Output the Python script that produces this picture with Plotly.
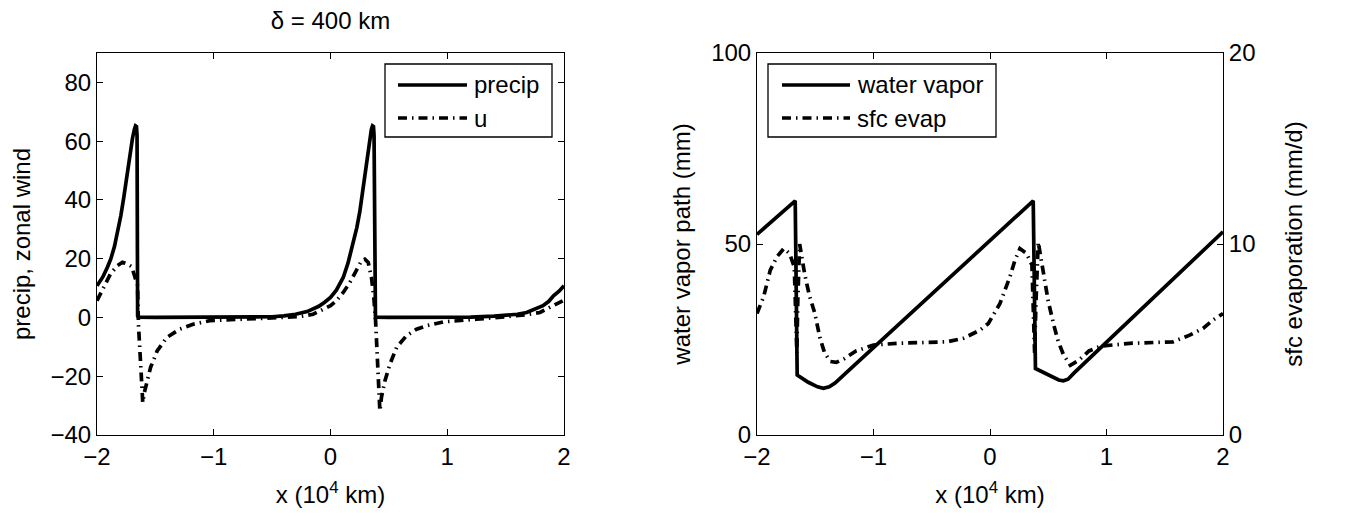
import plotly.graph_objects as go

# ---------------- data ----------------
# left panel: precip and zonal wind u vs x (10^4 km)
x_precip = [-2.0, -1.95, -1.91, -1.881, -1.85, -1.82, -1.796, -1.77, -1.75, -1.739, -1.72,
            -1.696, -1.68, -1.67, -1.662, -1.657, -1.652, -1.645, -1.5, -1.0, -0.9, -0.7,
            -0.5, -0.4, -0.3, -0.2, -0.1, -0.05, 0.0, 0.05, 0.109, 0.15, 0.194, 0.225,
            0.251, 0.275, 0.294, 0.315, 0.337, 0.35, 0.36, 0.368, 0.373, 0.378, 0.385,
            0.5, 1.0, 1.2, 1.4, 1.5, 1.6, 1.68, 1.75, 1.82, 1.87, 1.91, 1.96, 2.0]
precip = [10.8, 13.8, 17.2, 20.0, 24.2, 29.5, 34.6, 41.0, 46.5, 50.3, 55.7,
          61.0, 64.0, 65.2, 65.0, 62.0, 0.5, 0.1, 0.0, 0.0, 0.0, 0.05,
          0.25, 0.55, 1.1, 2.0, 3.8, 5.2, 6.8, 9.3, 13.6, 18.5, 25.0, 30.5,
          36.0, 42.5, 48.8, 55.0, 61.3, 64.0, 65.2, 65.0, 62.0, 0.5, 0.1,
          0.0, 0.0, 0.1, 0.45, 0.8, 1.1, 1.7, 2.7, 4.0, 5.5, 7.4, 9.0, 10.8]

x_u = [-2.0, -1.945, -1.885, -1.826, -1.782, -1.739, -1.703, -1.674, -1.653, -1.645,
       -1.634, -1.622, -1.608, -1.594, -1.567, -1.541, -1.485, -1.402, -1.291, -1.177,
       -1.034, -0.749, -0.463, -0.263, -0.149, -0.063, 0.0, 0.051, 0.109, 0.166, 0.223,
       0.266, 0.294, 0.323, 0.351, 0.371, 0.386, 0.4, 0.417, 0.423, 0.437, 0.466, 0.509,
       0.566, 0.651, 0.737, 0.823, 0.966, 1.251, 1.537, 1.68, 1.794, 1.88, 2.0]
u = [5.7, 10.2, 14.8, 17.6, 18.8, 18.2, 17.3, 13.6, 11.0, -2.3,
     -10.0, -21.6, -29.0, -25.5, -21.0, -17.0, -11.4, -6.8, -4.0, -2.3,
     -1.1, -0.6, -0.2, 0.3, 1.1, 2.8, 4.0, 5.7, 8.5, 11.9, 16.5,
     19.3, 19.8, 18.7, 13.6, 6.8, -1.1, -12.5, -27.0, -31.8, -27.0, -21.6, -15.9,
     -10.2, -6.2, -4.0, -2.8, -1.5, -0.6, 0.2, 0.9, 1.7, 3.4, 5.9]

# right panel: water vapor path (mm) and surface evaporation (mm/d)
x_wv = [-2.0, -1.672, -1.655, -1.56, -1.48, -1.43, -1.38, -1.33, -1.21, 0.371,
        0.39, 0.52, 0.59, 0.63, 0.67, 0.72, 2.0]
wv = [52.5, 61.3, 15.7, 13.8, 12.6, 12.2, 12.6, 13.6, 17.0, 61.3,
      17.4, 15.4, 14.4, 14.2, 14.6, 16.2, 53.2]

x_evap = [-2.0, -1.943, -1.886, -1.829, -1.77, -1.72, -1.68, -1.665, -1.658, -1.65,
          -1.634, -1.59, -1.55, -1.505, -1.46, -1.42, -1.37, -1.32, -1.25, -1.15,
          -1.0, -0.8, -0.6, -0.37, -0.229, -0.086, -0.014, 0.086, 0.171, 0.214,
          0.257, 0.314, 0.36, 0.375, 0.383, 0.395, 0.414, 0.45, 0.5, 0.55,
          0.586, 0.631, 0.69, 0.76, 0.85, 0.95, 1.2, 1.571, 1.714, 1.829, 1.914, 2.0]
evap = [6.36, 7.24, 8.63, 9.33, 9.76, 9.5, 8.8, 6.5, 4.3, 7.0,
        10.0, 8.4, 7.3, 6.4, 5.1, 4.3, 3.85, 3.8, 4.0, 4.4,
        4.71, 4.8, 4.85, 4.88, 5.06, 5.49, 5.84, 6.89, 8.28, 9.15,
        9.76, 9.5, 8.9, 6.5, 4.3, 7.0, 10.1, 8.8, 7.0, 5.7,
        4.9, 4.2, 3.65, 3.9, 4.4, 4.65, 4.8, 4.88, 5.23, 5.58, 6.02, 6.36]

x_ticks = [-2, -1, 0, 1, 2]
left_y_ticks = [-40, -20, 0, 20, 40, 60, 80]
wv_ticks = [0, 50, 100]
evap_ticks = [0, 10, 20]

# ---------------- styling ----------------
# the page body has an 8px default margin: the figure is drawn 8px in and 8px down
OFF = 8
W, H = 1350 - OFF, 516 - OFF
FONT = "Liberation Sans, Arial, Helvetica, sans-serif"
FS = 24
BLACK = "#000000"
LW = 3.7
DASHDOT = "9px,5px,1.5px,5px"


def px(xp):
    """screen pixel x (reference) -> paper fraction"""
    return (xp - OFF) / W


def py(yp):
    """screen pixel y (reference, from top) -> paper fraction"""
    return 1 - (yp - OFF) / H


fig = go.Figure()

fig.add_trace(go.Scatter(x=x_precip, y=precip, mode="lines", name="precip",
                         line=dict(color=BLACK, width=LW), xaxis="x", yaxis="y",
                         showlegend=False))
fig.add_trace(go.Scatter(x=x_u, y=u, mode="lines", name="u",
                         line=dict(color=BLACK, width=LW, dash=DASHDOT),
                         xaxis="x", yaxis="y", showlegend=False))
fig.add_trace(go.Scatter(x=x_wv, y=wv, mode="lines", name="water vapor",
                         line=dict(color=BLACK, width=LW), xaxis="x2", yaxis="y2",
                         showlegend=False))
fig.add_trace(go.Scatter(x=x_evap, y=evap, mode="lines", name="sfc evap",
                         line=dict(color=BLACK, width=LW, dash=DASHDOT),
                         xaxis="x2", yaxis="y3", showlegend=False))

ydom = [py(435), py(53)]
axis_common = dict(showgrid=False, zeroline=False, showline=True, linecolor=BLACK,
                   linewidth=1, ticks="inside", ticklen=6, tickwidth=1,
                   automargin=False,
                   tickcolor=BLACK, tickfont=dict(family=FONT, size=FS, color=BLACK))

fig.update_layout(
    template="none",
    width=W, height=H,
    margin=dict(l=0, r=0, t=0, b=0, pad=0),
    paper_bgcolor="white", plot_bgcolor="white",
    font=dict(family=FONT, size=FS, color=BLACK),
    title=dict(text="δ = 400 km", x=px(330.5), xanchor="center",
               y=py(21), yanchor="middle",
               font=dict(family=FONT, size=FS, color=BLACK)),
    xaxis=dict(domain=[px(97), px(564)], range=[-2, 2], tickvals=x_ticks,
               mirror="ticks", anchor="y",
               title=dict(text="x (10<sup>4</sup> km)", standoff=17,
                          font=dict(family=FONT, size=FS)), **axis_common),
    yaxis=dict(domain=ydom, range=[-40, 90], tickvals=left_y_ticks,
               mirror="ticks", anchor="x",
               title=dict(text="precip, zonal wind", standoff=15,
                          font=dict(family=FONT, size=FS)), **axis_common),
    xaxis2=dict(domain=[px(757), px(1223)], range=[-2, 2], tickvals=x_ticks,
                mirror="ticks", anchor="y2",
                title=dict(text="x (10<sup>4</sup> km)", standoff=17,
                           font=dict(family=FONT, size=FS)), **axis_common),
    yaxis2=dict(domain=ydom, range=[0, 100], tickvals=wv_ticks, anchor="x2",
                mirror="ticks",
                title=dict(text="water vapor path (mm)", standoff=13,
                           font=dict(family=FONT, size=FS)), **axis_common),
    yaxis3=dict(range=[0, 20], tickvals=evap_ticks, overlaying="y2", side="right",
                anchor="x2",
                title=dict(text="sfc evaporation (mm/d)", standoff=30,
                           font=dict(family=FONT, size=FS)), **axis_common),
)

# ---------------- legends (boxed, MATLAB style) ----------------
shapes = []
annotations = []


def add_legend(box, entries):
    x0, y0, x1, y1 = box
    shapes.append(dict(type="rect", xref="paper", yref="paper",
                       x0=px(x0), x1=px(x1), y0=py(y1), y1=py(y0),
                       line=dict(color=BLACK, width=1.3), fillcolor="white",
                       layer="above"))
    for (lx0, lx1, ly, tx, label, dash) in entries:
        shapes.append(dict(type="line", xref="paper", yref="paper",
                           x0=px(lx0), x1=px(lx1), y0=py(ly), y1=py(ly),
                           line=dict(color=BLACK, width=LW, dash=dash),
                           layer="above"))
        annotations.append(dict(text=label, xref="paper", yref="paper",
                                x=px(tx), y=py(ly), xanchor="left", yanchor="middle",
                                showarrow=False,
                                font=dict(family=FONT, size=FS, color=BLACK)))


add_legend((385, 64, 552, 137), [
    (398, 467, 85, 472, "precip", "solid"),
    (398, 467, 118, 472, "u", DASHDOT),
])
add_legend((768, 64, 996, 137), [
    (782, 850, 85, 855, "water vapor", "solid"),
    (782, 850, 118, 855, "sfc evap", DASHDOT),
])

fig.update_layout(shapes=shapes, annotations=annotations)

fig.write_html("out.html")
